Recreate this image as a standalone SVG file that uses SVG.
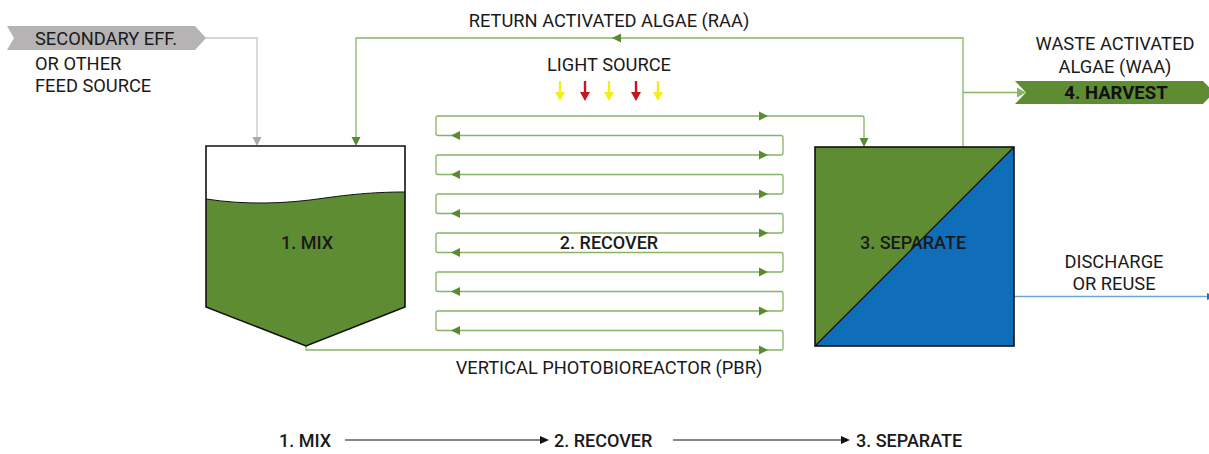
<svg xmlns="http://www.w3.org/2000/svg" xmlns:xlink="http://www.w3.org/1999/xlink" width="1209" height="454" viewBox="0 0 1209 454">
<style>
text{font-family:Roboto,"Liberation Sans",sans-serif;fill:#1a1a1a}
.lbl{font-size:18.3px}
.big{font-size:18px;font-weight:500}
.bold{font-size:18.5px;font-weight:700;fill:#111}
.gl{fill:none;stroke:#88b466;stroke-width:1.3}
.gy{fill:none;stroke:#c8c8c8;stroke-width:1.3}
.bl{fill:none;stroke:#6fa6db;stroke-width:1.3}
.ah{fill:#5a8b2e}
.k{fill:none;stroke:#111;stroke-width:1.6}
</style>
<defs>
<path id="ar" d="M0,0 L-9,-4.5 L-9,4.5 Z"/>
<path id="ad" d="M0,0 L-4.5,-9 L4.5,-9 Z"/>
<g id="ly"><path d="M0,0 V12" stroke-width="2.4"/><path d="M-5,11 L5,11 L0,20 Z" stroke="none"/></g>
</defs>

<g id="connectors">
<!-- feed line -->
<path class="gy" d="M205,38 H257 V138"/>
<use href="#ad" x="257" y="146" fill="#a9a9a9"/>
<!-- RAA -->
<path class="gl" d="M963,147 V38 H356 V138"/>
<use href="#ad" x="356" y="146" class="ah"/>
<use href="#ar" transform="translate(612,38) scale(-1,1)" class="ah"/>
<!-- WAA -->
<path class="gl" d="M963,92.5 H1018"/>
<!-- serpentine PBR -->
<path class="gl" d="M306,346 V350 H781 Q783,350 783,348 V332.5 Q783,330.5 781,330.5 H438 Q436,330.5 436,328.5 V313 Q436,311 438,311 H781 Q783,311 783,309 V293.5 Q783,291.5 781,291.5 H438 Q436,291.5 436,289.5 V274 Q436,272 438,272 H781 Q783,272 783,270 V254.5 Q783,252.5 781,252.5 H438 Q436,252.5 436,250.5 V235 Q436,233 438,233 H781 Q783,233 783,231 V215.5 Q783,213.5 781,213.5 H438 Q436,213.5 436,211.5 V196 Q436,194 438,194 H781 Q783,194 783,192 V176.5 Q783,174.5 781,174.5 H438 Q436,174.5 436,172.5 V157 Q436,155 438,155 H781 Q783,155 783,153 V137.5 Q783,135.5 781,135.5 H438 Q436,135.5 436,133.5 V118 Q436,116 438,116 H862 Q864,116 864,118 V139"/>
<g class="ah">
<use href="#ar" x="768" y="350"/>
<use href="#ar" x="768" y="311"/>
<use href="#ar" x="768" y="272"/>
<use href="#ar" x="768" y="233"/>
<use href="#ar" x="768" y="194"/>
<use href="#ar" x="768" y="155"/>
<use href="#ar" x="768" y="116"/>
<use href="#ar" transform="translate(451,330.5) scale(-1,1)"/>
<use href="#ar" transform="translate(451,291.5) scale(-1,1)"/>
<use href="#ar" transform="translate(451,252.5) scale(-1,1)"/>
<use href="#ar" transform="translate(451,213.5) scale(-1,1)"/>
<use href="#ar" transform="translate(451,174.5) scale(-1,1)"/>
<use href="#ar" transform="translate(451,135.5) scale(-1,1)"/>
<use href="#ad" x="864" y="147"/>
</g>
<!-- discharge -->
<path class="bl" d="M1014,296.5 H1208"/>
<path d="M1207,293 L1207,300 L1216,296.5 Z" fill="#1b72c0"/>
<!-- bottom flow -->
<path d="M345,440 H541" stroke="#111" stroke-width="1.1"/>
<path d="M549,440 L540,436 L540,444 Z" fill="#111"/>
<path d="M673,440 H842" stroke="#111" stroke-width="1.1"/>
<path d="M850,440 L841,436 L841,444 Z" fill="#111"/>
</g>

<g id="feed">
<polygon points="7,26 195,26 206,38 195,50 7,50 14,38" fill="#b5b3b4"/>
<text class="lbl" x="35" y="44.5">SECONDARY EFF.</text>
<text class="lbl" x="35" y="70">OR OTHER</text>
<text class="lbl" x="35" y="92">FEED SOURCE</text>
</g>

<g id="raa-label">
<text class="lbl" x="609" y="27" text-anchor="middle">RETURN ACTIVATED ALGAE (RAA)</text>
</g>

<g id="light">
<text class="lbl" x="609" y="71" text-anchor="middle">LIGHT SOURCE</text>
<use href="#ly" x="560" y="81" fill="#f4ef1a" stroke="#f4ef1a"/>
<use href="#ly" x="585" y="81" fill="#c4161c" stroke="#c4161c"/>
<use href="#ly" x="609" y="81" fill="#f4ef1a" stroke="#f4ef1a"/>
<use href="#ly" x="636" y="81" fill="#c4161c" stroke="#c4161c"/>
<use href="#ly" x="658" y="81" fill="#f4ef1a" stroke="#f4ef1a"/>
</g>

<g id="mix">
<polygon points="206,146 405,146 405,307 306,346 206,307" fill="#fff"/>
<path d="M206,199 C245,205 285,204 325,198 C360,193 385,192 405,192 V307 L306,346 L206,307 Z" fill="#5d8c33"/>
<path d="M206,199 C245,205 285,204 325,198 C360,193 385,192 405,192" fill="none" stroke="#111" stroke-width="1"/>
<polygon class="k" points="206,146 405,146 405,307 306,346 206,307"/>
<text class="big" x="307" y="249" text-anchor="middle">1. MIX</text>
</g>

<g id="recover">
<text class="big" x="609" y="249" text-anchor="middle">2. RECOVER</text>
<text class="lbl" x="609" y="373.5" text-anchor="middle">VERTICAL PHOTOBIOREACTOR (PBR)</text>
</g>

<g id="separate">
<polygon points="815,147 1014,147 815,346" fill="#5d8c33"/>
<polygon points="1014,147 1014,346 815,346" fill="#106db9"/>
<line x1="815" y1="346" x2="1014" y2="147" stroke="#111" stroke-width="1.2"/>
<rect class="k" x="815" y="147" width="199" height="199"/>
<text class="big" x="913" y="249" text-anchor="middle">3. SEPARATE</text>
</g>

<g id="harvest">
<text class="lbl" x="1115" y="49.5" text-anchor="middle">WASTE ACTIVATED</text>
<text class="lbl" x="1115" y="72.5" text-anchor="middle">ALGAE (WAA)</text>
<polygon points="1015,81 1203,81 1214,92.5 1203,104 1015,104 1026,92.5" fill="#5d8c33"/>
<path d="M1026,92.5 L1017,87.5 L1017,97.5 Z" fill="#88b466"/>
<text class="bold" x="1116" y="98.5" text-anchor="middle">4. HARVEST</text>
</g>

<g id="discharge">
<text class="lbl" x="1114" y="267.5" text-anchor="middle">DISCHARGE</text>
<text class="lbl" x="1114" y="289.5" text-anchor="middle">OR REUSE</text>
</g>

<g id="flow">
<text class="big" x="279" y="447">1. MIX</text>
<text class="big" x="554" y="447">2. RECOVER</text>
<text class="big" x="856" y="447">3. SEPARATE</text>
</g>
</svg>
